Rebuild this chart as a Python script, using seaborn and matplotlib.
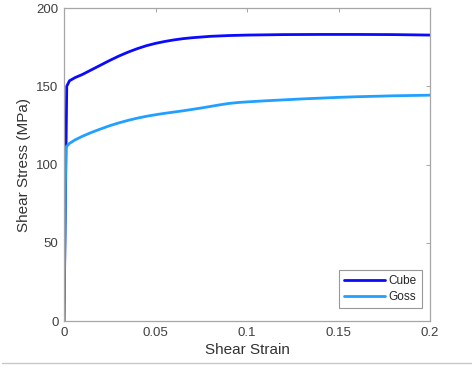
import numpy as np
import pandas as pd
import matplotlib
matplotlib.use("Agg")
import matplotlib.pyplot as plt
import seaborn as sns
from matplotlib.lines import Line2D

strain_cube = [0, 0.0015, 0.003, 0.006, 0.01, 0.015, 0.02, 0.025, 0.03, 0.035, 0.04, 0.045,
               0.05, 0.055, 0.06, 0.065, 0.07, 0.08, 0.09, 0.1, 0.12, 0.14, 0.16, 0.18, 0.2]
stress_cube = [0, 150, 153.5, 155.5, 157.5, 160.5, 163.5, 166.5, 169.3, 171.8, 174, 175.9,
               177.4, 178.6, 179.6, 180.4, 181, 181.9, 182.4, 182.7, 183, 183.1, 183.1, 183, 182.7]
strain_goss = [0, 0.001, 0.003, 0.006, 0.01, 0.015, 0.02, 0.025, 0.03, 0.035, 0.04, 0.045,
               0.05, 0.055, 0.06, 0.065, 0.07, 0.075, 0.08, 0.085, 0.09, 0.095, 0.1, 0.11,
               0.12, 0.13, 0.14, 0.15, 0.16, 0.17, 0.18, 0.19, 0.2]
stress_goss = [0, 111, 113.5, 115.7, 118, 120.5, 122.7, 124.8, 126.6, 128.2, 129.6, 130.8,
               131.8, 132.7, 133.5, 134.3, 135.2, 136.1, 137.1, 138.1, 139, 139.6, 140, 140.7,
               141.3, 141.9, 142.4, 142.9, 143.3, 143.6, 143.9, 144.1, 144.3]
series = ["Cube", "Goss"]
colors = ["#0a0aff", "#22a0ff"]

df = pd.concat([
    pd.DataFrame({"strain": strain_cube, "stress": stress_cube, "series": series[0]}),
    pd.DataFrame({"strain": strain_goss, "stress": stress_goss, "series": series[1]}),
], ignore_index=True)

sns.set_theme(style="white")
plt.rcParams["font.family"] = ["Liberation Sans", "DejaVu Sans"]

fig = plt.figure(figsize=(4.72, 3.68), dpi=100)
ax = fig.add_axes([64/472, 47/368, 366/472, 313/368])
sns.lineplot(data=df, x="strain", y="stress", hue="series", palette=colors,
             hue_order=series, linewidth=2.0, sort=False, estimator=None, ax=ax)

ax.set_xlim(0, 0.2)
ax.set_ylim(0, 200)
ax.set_xticks([0, 0.05, 0.1, 0.15, 0.2])
ax.set_xticklabels(["0", "0.05", "0.1", "0.15", "0.2"])
ax.set_yticks([0, 50, 100, 150, 200])
ax.set_xlabel("Shear Strain", fontsize=11, color="#333333", labelpad=3)
ax.set_ylabel("Shear Stress (MPa)", fontsize=11, color="#333333", labelpad=4)
for s in ax.spines.values():
    s.set_visible(True)
    s.set_color("#a6a6a6")
    s.set_linewidth(0.9)
ax.tick_params(direction="in", length=3, width=0.7, color="#a6a6a6",
               labelsize=9.5, labelcolor="#404040", top=True, right=True, pad=4)

leg = ax.legend(loc="lower right", bbox_to_anchor=(0.977, 0.0425), fontsize=8.5,
                frameon=True, fancybox=False, handlelength=3.5, borderpad=0.39,
                labelspacing=0.36, handletextpad=0.3, borderaxespad=0.0)
leg.get_frame().set_edgecolor("#7f7f7f")
leg.get_frame().set_linewidth(0.8)
for line in leg.get_lines():
    line.set_linewidth(2.0)

fig.add_artist(Line2D([2/472, 1.0], [1 - 363/368, 1 - 363/368],
                      transform=fig.transFigure, color="#c8c8c8", linewidth=1.0))

fig.savefig("out.png", dpi=100)
